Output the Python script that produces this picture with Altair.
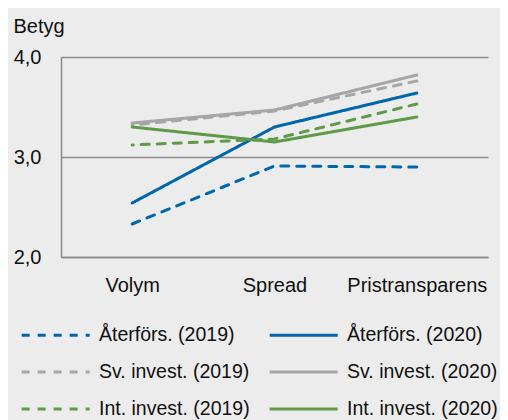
import altair as alt
import pandas as pd

categories = ["Volym", "Spread", "Pristransparens"]
series = [
    "Återförs. (2019)", "Återförs. (2020)",
    "Sv. invest. (2019)", "Sv. invest. (2020)",
    "Int. invest. (2019)", "Int. invest. (2020)",
]
aterfors_2019 = [2.33, 2.91, 2.90]
aterfors_2020 = [2.54, 3.30, 3.64]
sv_2019 = [3.32, 3.46, 3.76]
sv_2020 = [3.34, 3.47, 3.82]
int_2019 = [3.12, 3.18, 3.53]
int_2020 = [3.30, 3.15, 3.40]

values = [aterfors_2019, aterfors_2020, sv_2019, sv_2020, int_2019, int_2020]
colors = ["#0066ad", "#0066ad", "#a6a6a6", "#a6a6a6", "#5e9a47", "#5e9a47"]
dashes = [[8, 8], [1, 0], [8, 8], [1, 0], [8, 8], [1, 0]]

rows = []
for s, vals in zip(series, values):
    for c, v in zip(categories, vals):
        rows.append({"serie": s, "kategori": c, "betyg": v})
df = pd.DataFrame(rows)

FONT = "Liberation Sans"


def make_legend():
    return alt.Legend(title=None, orient="none", legendX=-41, legendY=265,
                      direction="horizontal", columns=2,
                      symbolType="M-1,0H5", symbolSize=514,
                      symbolStrokeWidth=3, labelOffset=53,
                      labelFontSize=19.5, labelFont=FONT, labelColor="#111",
                      rowPadding=14, columnPadding=13)


chart = alt.Chart(df).mark_line(strokeWidth=3, strokeCap="round").encode(
    x=alt.X("kategori:N", sort=categories,
            scale=alt.Scale(type="point", padding=0.5),
            axis=alt.Axis(title=None, ticks=False, domain=True, domainColor="#8a8a8a",
                          domainWidth=1.5, labelPadding=18, labelFontSize=20,
                          labelFont=FONT, labelColor="#111", labelAngle=0, grid=False)),
    y=alt.Y("betyg:Q", scale=alt.Scale(domain=[2, 4], nice=False, zero=False),
            axis=alt.Axis(values=[2, 3, 4], title="Betyg", titleAngle=0, titleX=-48,
                          titleY=-25, titleAlign="left", titleBaseline="alphabetic",
                          titleFontSize=20, titleFont=FONT, titleFontWeight="normal",
                          titleColor="#111",
                          labelExpr="replace(format(datum.value, '.1f'), '.', ',')",
                          labelFontSize=20, labelFont=FONT, labelColor="#111",
                          labelPadding=20, ticks=False, domain=True,
                          domainColor="#8a8a8a", domainWidth=1.5,
                          grid=True, gridColor="#8a8a8a", gridWidth=1.5)),
    color=alt.Color("serie:N", sort=series,
                    scale=alt.Scale(domain=series, range=colors),
                    legend=make_legend()),
    strokeDash=alt.StrokeDash("serie:N", sort=series,
                              scale=alt.Scale(domain=series, range=dashes),
                              legend=make_legend()),
    order=alt.Order("kategori:N"),
).properties(
    width=427, height=200,
    autosize=alt.AutoSizeParams(type="none"),
    padding={"left": 53, "top": 49, "right": 12, "bottom": 163},
    background="#ececec",
).configure_view(stroke=None)

chart.save("out.html", embed_options={"renderer": "svg", "actions": False})
